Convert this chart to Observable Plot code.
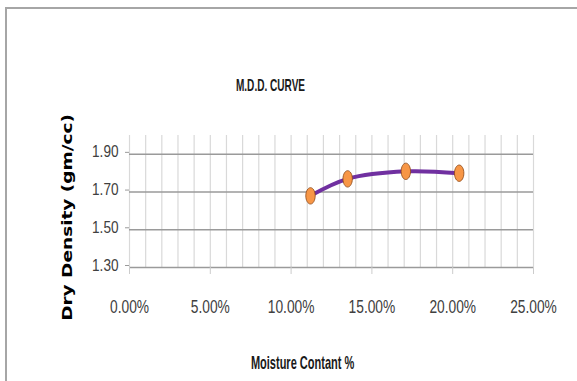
<!DOCTYPE html>
<html>
<head>
<meta charset="utf-8">
<script src="https://cdn.jsdelivr.net/npm/d3@7"></script>
<script src="https://cdn.jsdelivr.net/npm/@observablehq/plot@0.6"></script>
<style>
  html, body { margin: 0; padding: 0; background: #fff; }
  #wrap { position: relative; width: 577px; height: 381px; overflow: hidden; }
  #border { position: absolute; left: 5px; top: 7px; width: 700px; height: 500px;
            border-top: 2px solid #a6a6a6; border-left: 2px solid #a6a6a6; pointer-events: none; }
</style>
</head>
<body>
<div id="wrap"><div id="border"></div></div>
<script>
// Data
const moisture = [0.112, 0.135, 0.171, 0.204];      // moisture content (fraction)
const dryDensity = [1.68, 1.77, 1.81, 1.80];         // dry density (gm/cc)
const xTicks = [0, 0.05, 0.10, 0.15, 0.20, 0.25];
const xMinorGrid = d3.range(0, 26).map(i => i / 100);
const yTicks = [1.30, 1.50, 1.70, 1.90];
const titleText = "M.D.D. CURVE";
const xTitle = "Moisture Contant %";
const yTitle = "Dry Density (gm/cc)";

const data = moisture.map((m, i) => ({ m, d: dryDensity[i] }));

const sans = "'Liberation Sans', Arial, sans-serif";

const ellipse = {
  draw(ctx) {
    const rx = 4.7, ry = 8.2, k = 0.5523;
    ctx.moveTo(rx, 0);
    ctx.bezierCurveTo(rx, ry * k, rx * k, ry, 0, ry);
    ctx.bezierCurveTo(-rx * k, ry, -rx, ry * k, -rx, 0);
    ctx.bezierCurveTo(-rx, -ry * k, -rx * k, -ry, 0, -ry);
    ctx.bezierCurveTo(rx * k, -ry, rx, -ry * k, rx, 0);
    ctx.closePath();
  }
};

const chart = Plot.plot({
  width: 577,
  height: 381,
  marginTop: 135,
  marginBottom: 114,
  marginLeft: 129,
  marginRight: 44,
  style: { fontFamily: sans, fontSize: "14px", color: "#404040", background: "transparent" },
  x: { domain: [0, 0.25] },
  y: { domain: [1.3, 2.0] },
  marks: [
    Plot.ruleX(xMinorGrid, { y1: 1.3, y2: 2.0, stroke: "#d9d9d9", strokeWidth: 1.2 }),
    Plot.ruleY(yTicks, { stroke: "#9a9a9a", strokeWidth: 1.5 }),
    Plot.axisY(yTicks, { tickSize: 4, tickPadding: 7, stroke: "#9a9a9a", tickFormat: d3.format(".2f"), label: null, fill: "#404040", fontSize: 16, dy: -2 }),
    Plot.axisX(xTicks, { tickSize: 7, tickPadding: 25, stroke: "#cccccc", tickFormat: d3.format(".2%"), label: null, fill: "#404040", fontSize: 19 }),
    Plot.line(data, { x: "m", y: "d", curve: "catmull-rom", stroke: "#7030a0", strokeWidth: 4 }),
    Plot.dot(data, { x: "m", y: "d", symbol: ellipse, r: 5, fill: "#f79646", stroke: "#8b4513", strokeWidth: 0.8 }),
    Plot.text([titleText], { frameAnchor: "top-left", dx: 141, dy: -50, textAnchor: "middle", lineAnchor: "middle", fontSize: 16.5, fontWeight: "bold", fill: "#1a1a1a" }),
    Plot.text([xTitle], { frameAnchor: "top-left", dx: 173, dy: 228, textAnchor: "middle", lineAnchor: "middle", fontSize: 17.5, fontWeight: "bold", fill: "#1a1a1a" }),
    Plot.text([yTitle], { frameAnchor: "top-left", dx: -62, dy: 82, rotate: -90, textAnchor: "middle", lineAnchor: "middle", fontSize: 18.5, fontWeight: "bold", fontFamily: "'DejaVu Sans', sans-serif", fill: "#000" })
  ]
});
chart.style.position = "absolute";
chart.style.left = "0";
chart.style.top = "0";
document.getElementById("wrap").appendChild(chart);

// The reference image is horizontally compressed: squeeze text glyphs in x.
function squeezeEl(t, sx, anchor) {
  const r = t.getBoundingClientRect();
  const inv = t.parentNode.getScreenCTM().inverse();
  const pt = chart.createSVGPoint();
  pt.x = anchor === "end" ? r.right : anchor === "start" ? r.left : (r.left + r.right) / 2;
  pt.y = (r.top + r.bottom) / 2;
  const p = pt.matrixTransform(inv);
  const old = t.getAttribute("transform") || "";
  t.setAttribute("transform", `translate(${p.x},${p.y}) scale(${sx},1) translate(${-p.x},${-p.y}) ${old}`);
}
function squeeze(sel, sx, anchor) {
  chart.querySelectorAll(sel).forEach(t => squeezeEl(t, sx, anchor));
}
function squeezeText(content, sx) {
  chart.querySelectorAll("text").forEach(t => { if (t.textContent === content) squeezeEl(t, sx, "middle"); });
}
squeeze('g[aria-label="y-axis tick label"] text', 0.85, "end");
squeeze('g[aria-label="x-axis tick label"] text', 0.725, "middle");
squeezeText(titleText, 0.61);
squeezeText(xTitle, 0.63);
squeezeText(yTitle, 0.72);
</script>
</body>
</html>
